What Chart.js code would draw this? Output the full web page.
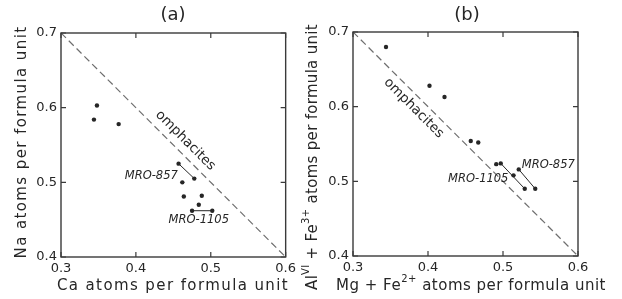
<!DOCTYPE html>
<html>
<head>
<meta charset="utf-8">
<script src="https://cdn.jsdelivr.net/npm/chart.js@4/dist/chart.umd.min.js"></script>
<style>
  html, body { margin: 0; padding: 0; background: #fff; }
  #wrap { position: relative; width: 622px; height: 299px; overflow: hidden; }
  canvas { position: absolute; top: 0; }
  #chartA { left: 0; }
  #chartB { left: 300px; }
</style>
</head>
<body>
<div id="wrap">
  <canvas id="chartA" width="300" height="299"></canvas>
  <canvas id="chartB" width="322" height="299"></canvas>
</div>
<script>
'use strict';

// axis ranges and ticks (both panels)
const axisMin = 0.3;
const axisMax = 0.6;
const yMin = 0.4;
const yMax = 0.7;
const tickStep = 0.1;

// omphacite boundary line
const omphX = [0.3, 0.6];
const omphY = [0.7, 0.4];

// panel (a): Ca vs Na
const aCa = [0.348, 0.344, 0.377, 0.462, 0.464, 0.488, 0.484];
const aNa = [0.603, 0.584, 0.578, 0.500, 0.481, 0.482, 0.470];
const aMro857Ca = [0.457, 0.478];
const aMro857Na = [0.525, 0.505];
const aMro1105Ca = [0.475, 0.502];
const aMro1105Na = [0.462, 0.462];

// panel (b): Mg+Fe2+ vs AlVI+Fe3+
const bMgFe = [0.344, 0.402, 0.422, 0.457, 0.467, 0.491, 0.514];
const bAlFe = [0.680, 0.628, 0.613, 0.554, 0.552, 0.523, 0.508];
const bMro1105MgFe = [0.497, 0.529];
const bMro1105AlFe = [0.524, 0.490];
const bMro857MgFe = [0.521, 0.543];
const bMro857AlFe = [0.516, 0.490];

const FONT = '"DejaVu Sans", sans-serif';
const INK = '#262626';

const zip = (xs, ys) => xs.map((x, i) => ({ x, y: ys[i] }));

// centred text run with superscript pieces
function drawRich(ctx, segs, x, y, size, spacing) {
    const supSize = Math.round(size * 0.68);
    ctx.letterSpacing = `${spacing}px`;
    let total = 0;
    segs.forEach(s => {
        ctx.font = `${s.sup ? supSize : size}px ${FONT}`;
        s.w = ctx.measureText(s.t).width;
        total += s.w;
    });
    let cx = x - total / 2;
    ctx.textAlign = 'left';
    ctx.textBaseline = 'middle';
    segs.forEach(s => {
        ctx.font = `${s.sup ? supSize : size}px ${FONT}`;
        ctx.fillText(s.t, cx, s.sup ? y - size * 0.42 : y);
        cx += s.w;
    });
    ctx.letterSpacing = '0px';
}

const framePlugin = {
    id: 'frame',
    afterDraw(chart, args, opts) {
        const { ctx, chartArea: a, scales } = chart;
        ctx.save();
        ctx.strokeStyle = '#3a3a3a';
        ctx.lineWidth = 1.4;
        ctx.strokeRect(a.left, a.top, a.right - a.left, a.bottom - a.top);

        // inward ticks on all four sides
        const tl = 5;
        ctx.lineWidth = 1.2;
        ctx.beginPath();
        scales.x.ticks.forEach(t => {
            const px = scales.x.getPixelForValue(t.value);
            ctx.moveTo(px, a.bottom); ctx.lineTo(px, a.bottom - tl);
            ctx.moveTo(px, a.top); ctx.lineTo(px, a.top + tl);
        });
        scales.y.ticks.forEach(t => {
            const py = scales.y.getPixelForValue(t.value);
            ctx.moveTo(a.left, py); ctx.lineTo(a.left + tl, py);
            ctx.moveTo(a.right, py); ctx.lineTo(a.right - tl, py);
        });
        ctx.stroke();

        ctx.fillStyle = INK;
        ctx.font = `18px ${FONT}`;
        ctx.textAlign = 'center';
        ctx.textBaseline = 'middle';
        ctx.fillText(opts.letter, opts.letterX, 15);

        // axis titles
        drawRich(ctx, opts.xTitle, opts.xTitleX, 286, 15, opts.xSpacing);
        ctx.save();
        ctx.translate(opts.yTitleX, opts.yTitleY);
        ctx.rotate(-Math.PI / 2);
        drawRich(ctx, opts.yTitle, 0, 0, 15, opts.ySpacing);
        ctx.restore();

        // in-plot labels, anchored in data units
        opts.labels.forEach(l => {
            const px = scales.x.getPixelForValue(l.x);
            const py = scales.y.getPixelForValue(l.y);
            ctx.save();
            ctx.translate(px, py);
            ctx.rotate(l.rot || 0);
            ctx.font = `${l.italic ? 'italic ' : ''}${l.size}px ${FONT}`;
            ctx.textAlign = l.align || 'center';
            ctx.textBaseline = 'middle';
            ctx.fillText(l.text, 0, 0);
            ctx.restore();
        });
        ctx.restore();
    }
};

function makeChart(id, cfg) {
    const tickFont = { family: FONT, size: 13 };
    const pointSet = data => ({
        type: 'scatter', data, pointRadius: 2.2, pointBackgroundColor: INK,
        pointBorderWidth: 0, showLine: false
    });
    const tieSet = data => ({
        type: 'line', data, borderColor: INK, borderWidth: 1,
        pointRadius: 2.2, pointBackgroundColor: INK, pointBorderWidth: 0, fill: false
    });
    return new Chart(document.getElementById(id), {
        type: 'scatter',
        data: {
            datasets: [
                {
                    type: 'line', data: zip(omphX, omphY), borderColor: '#6e6e6e',
                    borderWidth: 1.2, borderDash: [7, 4], pointRadius: 0, fill: false
                },
                pointSet(cfg.points),
                tieSet(cfg.tie1),
                tieSet(cfg.tie2)
            ]
        },
        options: {
            responsive: false,
            animation: false,
            layout: { padding: cfg.padding },
            plugins: {
                legend: { display: false },
                tooltip: { enabled: false },
                frame: cfg.frame
            },
            scales: {
                x: {
                    type: 'linear', min: axisMin, max: axisMax,
                    grid: { display: false, drawTicks: false },
                    border: { display: false },
                    ticks: {
                        stepSize: tickStep, padding: 4, maxRotation: 0, autoSkip: false,
                        color: INK, font: tickFont, callback: v => v.toFixed(1)
                    },
                    afterFit: s => { s.height = 42; }
                },
                y: {
                    type: 'linear', min: yMin, max: yMax,
                    grid: { display: false, drawTicks: false },
                    border: { display: false },
                    ticks: {
                        stepSize: tickStep, padding: 4, autoSkip: false,
                        color: INK, font: tickFont, callback: v => v.toFixed(1)
                    },
                    afterFit: s => { s.width = cfg.yWidth; }
                }
            }
        },
        plugins: [framePlugin]
    });
}

makeChart('chartA', {
    points: zip(aCa, aNa),
    tie1: zip(aMro857Ca, aMro857Na),
    tie2: zip(aMro1105Ca, aMro1105Na),
    yWidth: 61,
    padding: { left: 0, right: 14, top: 33, bottom: 0 },
    frame: {
        letter: '(a)', letterX: 173,
        xTitle: [{ t: 'Ca atoms per formula unit' }], xTitleX: 173, xSpacing: 1.4,
        yTitle: [{ t: 'Na atoms per formula unit' }], yTitleX: 22, yTitleY: 142, ySpacing: 1.4,
        labels: [
            { text: 'omphacites', x: 0.466, y: 0.556, rot: Math.PI / 4, size: 13.5 },
            { text: 'MRO-857', x: 0.456, y: 0.508, align: 'right', italic: true, size: 11.5 },
            { text: 'MRO-1105', x: 0.484, y: 0.449, italic: true, size: 11.5 }
        ]
    }
});

makeChart('chartB', {
    points: zip(bMgFe, bAlFe),
    tie1: zip(bMro1105MgFe, bMro1105AlFe),
    tie2: zip(bMro857MgFe, bMro857AlFe),
    yWidth: 53,
    padding: { left: 0, right: 44, top: 32, bottom: 1 },
    frame: {
        letter: '(b)', letterX: 167,
        xTitle: [{ t: 'Mg + Fe' }, { t: '2+', sup: true }, { t: ' atoms per formula unit' }],
        xTitleX: 171, xSpacing: 0.5,
        yTitle: [{ t: 'Al' }, { t: 'VI', sup: true }, { t: ' + Fe' }, { t: '3+', sup: true }, { t: ' atoms per formula unit' }],
        yTitleX: 13, yTitleY: 157, ySpacing: 0.3,
        labels: [
            { text: 'omphacites', x: 0.381, y: 0.598, rot: Math.PI / 4, size: 13.5 },
            { text: 'MRO-857', x: 0.525, y: 0.522, align: 'left', italic: true, size: 11.5 },
            { text: 'MRO-1105', x: 0.467, y: 0.503, italic: true, size: 11.5 }
        ]
    }
});
</script>
</body>
</html>
